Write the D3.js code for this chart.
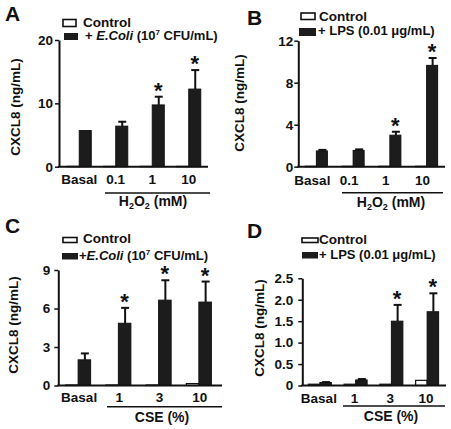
<!DOCTYPE html>
<html><head><meta charset="utf-8">
<script src="https://cdn.jsdelivr.net/npm/d3@7"></script>
<style>
body{margin:0;background:#fff}
svg{display:block}
text{font-family:"Liberation Sans",Arial,sans-serif;font-weight:bold;fill:#111}
</style>
</head><body>
<svg id="c" width="451" height="429"></svg>
<script>
// ---- data ----
const categoriesH2O2 = ["Basal", "0.1", "1", "10"];
const categoriesCSE = ["Basal", "1", "3", "10"];

const controlA = [0.05, 0.05, 0.05, 0.05];
const ecoliA = [5.7, 6.4, 9.75, 12.25];
const ecoliErrA = [0, 0.7, 1.3, 3.0];
const starsA = [0, 0, 1, 1];
const ticksA = [0, 10, 20];

const controlB = [0.04, 0.04, 0.04, 0.04];
const lpsB = [1.5, 1.55, 3.0, 9.65];
const lpsErrB = [0.1, 0.1, 0.33, 0.7];
const starsB = [0, 0, 1, 1];
const ticksB = [0, 4, 8, 12];

const controlC = [0.04, 0.04, 0.04, 0.15];
const ecoliC = [2.0, 4.85, 6.65, 6.5];
const ecoliErrC = [0.5, 1.2, 1.55, 1.6];
const starsC = [0, 1, 1, 1];
const ticksC = [0, 3, 6, 9];

const controlD = [0.03, 0.03, 0.03, 0.12];
const lpsD = [0.07, 0.13, 1.5, 1.72];
const lpsErrD = [0.01, 0.02, 0.38, 0.43];
const starsD = [0, 0, 1, 1];
const ticksD = [0, 0.5, 1.0, 1.5, 2.0, 2.5];

const yLabel = "CXCL8 (ng/mL)";
const legendControl = "Control";

const svg = d3.select("#c");
const DARK = "#1c1c1c";

function drawPanel(p) {
  const g = svg.append("g");
  const y = d3.scaleLinear().domain([0, p.ymax]).range(p.yRange);
  const x = d3.scaleBand().domain(p.cats).range(p.xRange).padding(0);
  const bw = p.barW;

  // y axis
  const ax = g.append("g").attr("transform", `translate(${p.axisX},0)`)
    .call(d3.axisLeft(y).tickValues(p.ticks).tickSize(4).tickSizeOuter(0)
      .tickPadding(p.tickPad).tickFormat(p.fmt));
  ax.select(".domain").attr("stroke", "#111").attr("stroke-width", 2);
  ax.selectAll(".tick line").attr("stroke", "#111").attr("stroke-width", 1.5);
  ax.selectAll(".tick text").attr("font-size", 13.5).attr("font-weight", "bold")
    .attr("font-family", '"Liberation Sans",Arial,sans-serif').attr("fill", "#111");

  // bars
  const idx = d3.range(p.cats.length);
  g.selectAll(".ctl").data(idx).join("rect")
    .attr("x", i => x(p.cats[i]) + x.bandwidth() / 2 - bw)
    .attr("width", bw)
    .attr("y", i => y(p.ctl[i]))
    .attr("height", i => y(0) - y(p.ctl[i]))
    .attr("fill", "#fff").attr("stroke", "#111").attr("stroke-width", 1.2);
  g.selectAll(".trt").data(idx).join("rect")
    .attr("x", i => x(p.cats[i]) + x.bandwidth() / 2)
    .attr("width", bw)
    .attr("y", i => y(p.trt[i]))
    .attr("height", i => y(0) - y(p.trt[i]))
    .attr("fill", DARK).attr("stroke", "#111").attr("stroke-width", 1);

  // error bars
  idx.forEach(i => {
    if (p.err[i] <= 0) return;
    const cx = x(p.cats[i]) + x.bandwidth() / 2 + bw / 2 + 0.5;
    const top = y(p.trt[i] + p.err[i]);
    g.append("line").attr("x1", cx).attr("x2", cx).attr("y1", y(p.trt[i])).attr("y2", top)
      .attr("stroke", "#111").attr("stroke-width", 2);
    g.append("line").attr("x1", cx - 4).attr("x2", cx + 4).attr("y1", top).attr("y2", top)
      .attr("stroke", "#111").attr("stroke-width", 2);
    if (p.stars[i]) {
      g.append("text").attr("x", cx - 0.5).attr("y", top + 1).attr("text-anchor", "middle")
        .attr("font-size", 22).text("*");
    }
  });

  // baseline
  g.append("line").attr("x1", p.axisX - 1).attr("x2", p.axisEnd)
    .attr("y1", y(0)).attr("y2", y(0)).attr("stroke", "#111").attr("stroke-width", 2);

  // category labels
  g.selectAll(".cat").data(p.cats).join("text")
    .attr("x", d => x(d) + x.bandwidth() / 2 + p.catDx)
    .attr("y", p.catY).attr("text-anchor", "middle").attr("font-size", 13.5).text(d => d);

  // group underline + label
  g.append("line").attr("x1", p.grp[0]).attr("x2", p.grp[1]).attr("y1", p.grp[2]).attr("y2", p.grp[2])
    .attr("stroke", "#111").attr("stroke-width", 1.6);
  const gl = g.append("text").attr("x", p.grpLabel[0]).attr("y", p.grpLabel[1])
    .attr("text-anchor", "middle").attr("font-size", 14);
  p.grpText(gl);

  // y label
  g.append("text").attr("transform", `translate(${p.yLab[0]},${p.yLab[1]}) rotate(-90)`)
    .attr("text-anchor", "middle").attr("dy", "0.35em").attr("font-size", 13.5).text(yLabel);

  // panel letter
  g.append("text").attr("x", p.letter[0]).attr("y", p.letter[1]).attr("font-size", 21).text(p.letter[2]);

  // legend
  const L = p.legend;
  g.append("rect").attr("x", L.c[0]).attr("y", L.c[1]).attr("width", L.c[2]).attr("height", L.c[3])
    .attr("fill", "#fff").attr("stroke", "#111").attr("stroke-width", 1.6);
  g.append("text").attr("x", L.ct[0]).attr("y", L.ct[1]).attr("font-size", 13.5).text(legendControl);
  g.append("rect").attr("x", L.t[0]).attr("y", L.t[1]).attr("width", L.t[2]).attr("height", L.t[3])
    .attr("fill", DARK);
  const tt = g.append("text").attr("x", L.tt[0]).attr("y", L.tt[1]).attr("font-size", 13);
  L.text(tt);
}

function h2o2(t) {
  t.append("tspan").text("H");
  t.append("tspan").attr("font-size", 9).attr("dy", 3).text("2");
  t.append("tspan").attr("dy", -3).text("O");
  t.append("tspan").attr("font-size", 9).attr("dy", 3).text("2");
  t.append("tspan").attr("dy", -3).text(" (mM)");
}
function cse(t) { t.text("CSE (%)"); }
function ecoli(prefix) {
  return t => {
    t.append("tspan").text(prefix);
    t.append("tspan").attr("font-style", "italic").text("E.Coli");
    t.append("tspan").text(" (10");
    t.append("tspan").attr("font-size", 8).attr("dy", -5).text("7");
    t.append("tspan").attr("dy", 5).text(" CFU/mL)");
  };
}
function lps(t) { t.text("+ LPS (0.01 μg/mL)"); }

drawPanel({
  cats: categoriesH2O2, ctl: controlA, trt: ecoliA, err: ecoliErrA, stars: starsA,
  ymax: 20, ticks: ticksA, fmt: d3.format("d"), yRange: [166.7, 40],
  axisX: 59, xRange: [61, 207], axisEnd: 208, barW: 12, tickPad: 2,
  catY: 183.5, catDx: 0, grp: [105, 210, 193], grpLabel: [153, 206], grpText: h2o2,
  yLab: [15, 107], letter: [5, 21, "A"],
  legend: { c: [63, 19.5, 13, 7], ct: [83, 26.5], t: [64, 33, 14, 7], tt: [85, 40], text: ecoli("+ ") }
});

drawPanel({
  cats: categoriesH2O2, ctl: controlB, trt: lpsB, err: lpsErrB, stars: starsB,
  ymax: 12, ticks: ticksB, fmt: d3.format("d"), yRange: [166.7, 40.7],
  axisX: 298.3, xRange: [298, 445], axisEnd: 445, barW: 11, tickPad: 1,
  catY: 184.5, catDx: -4, grp: [342, 443, 192.7], grpLabel: [391, 207], grpText: h2o2,
  yLab: [239, 103], letter: [247, 25, "B"],
  legend: { c: [301, 13, 14, 6.5], ct: [319, 20.5], t: [299, 28, 17, 8], tt: [318, 35], text: lps }
});

drawPanel({
  cats: categoriesCSE, ctl: controlC, trt: ecoliC, err: ecoliErrC, stars: starsC,
  ymax: 9, ticks: ticksC, fmt: d3.format("d"), yRange: [385.5, 270],
  axisX: 58.3, xRange: [58, 219], axisEnd: 222, barW: 12.5, tickPad: 4,
  catY: 401.5, catDx: 1, grp: [107, 222, 406.7], grpLabel: [162, 422], grpText: cse,
  yLab: [13, 325], letter: [5, 233, "C"],
  legend: { c: [63, 237.5, 14, 5], ct: [83, 242.5], t: [62, 253, 16, 6.5], tt: [79, 259.5], text: ecoli("+") }
});

drawPanel({
  cats: categoriesCSE, ctl: controlD, trt: lpsD, err: lpsErrD, stars: starsD,
  ymax: 2.5, ticks: ticksD, fmt: d => d === 0 ? "0" : d3.format(".1f")(d), yRange: [385.5, 278.3],
  axisX: 302.3, xRange: [302, 445], axisEnd: 446, barW: 11.5, tickPad: 5,
  catY: 402.7, catDx: -1, grp: [343, 445, 406], grpLabel: [391, 420.7], grpText: cse,
  yLab: [259, 328], letter: [247, 238, "D"],
  legend: { c: [302, 238, 16, 4.5], ct: [319, 243.5], t: [302, 252, 16, 6.5], tt: [319, 258.5], text: lps }
});
</script>
</body></html>
